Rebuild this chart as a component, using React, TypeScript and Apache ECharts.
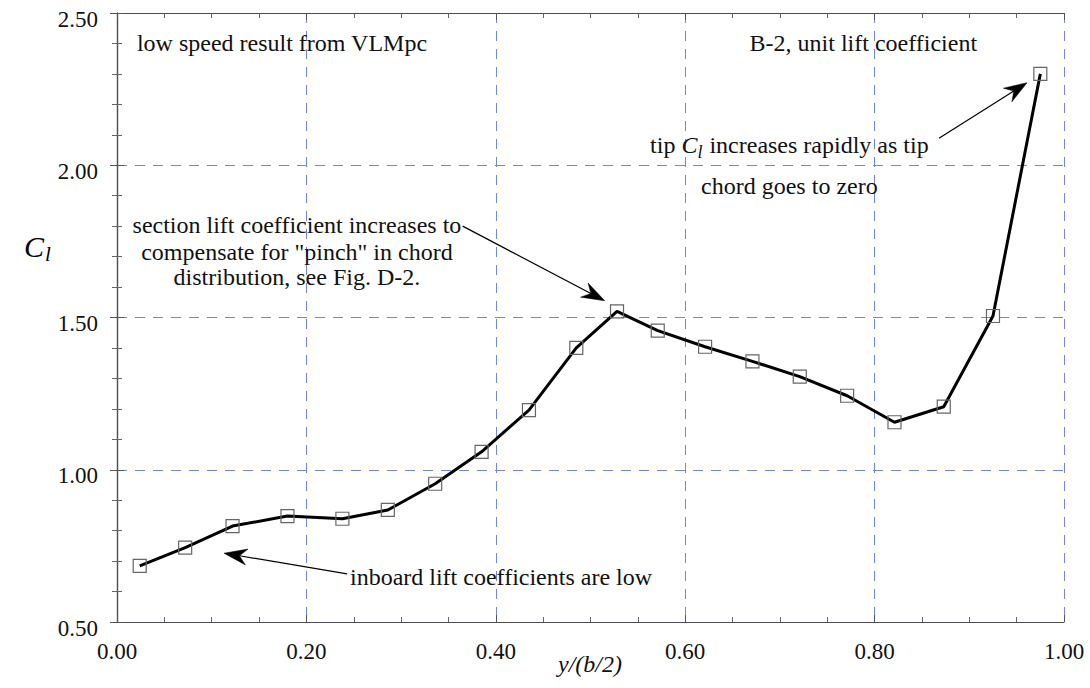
import React, { useEffect, useRef } from "react";
import * as echarts from "echarts";

// Spanwise station y/(b/2) and section lift coefficient C_l
const spanStation = [
  0.024, 0.072, 0.122, 0.18, 0.238, 0.286, 0.336, 0.385, 0.435, 0.485,
  0.528, 0.571, 0.621, 0.671, 0.721, 0.771, 0.821, 0.873, 0.925, 0.975,
];
const liftCoeff = [
  0.684, 0.744, 0.815, 0.848, 0.839, 0.868, 0.954, 1.059, 1.196, 1.4,
  1.52, 1.457, 1.404, 1.356, 1.306, 1.243, 1.156, 1.207, 1.505, 2.3,
];

// Axis ranges and tick steps
const xRange = [0, 1];
const yRange = [0.5, 2.5];
const xStep = 0.2;
const yStep = 0.5;

// Annotation texts, anchored in data units
const noteTopLeft = "low speed result from VLMpc";
const noteTopRight = "B-2, unit lift coefficient";
const sectionNote = [
  "section lift coefficient increases to",
  'compensate for "pinch" in chord',
  "distribution, see Fig. D-2.",
];
const inboardNote = "inboard lift coefficients are low";
const tipNoteLine2 = "chord goes to zero";

// Arrows: [tail, head] in data units
const arrows: [number, number][][] = [
  [[0.365, 1.8], [0.515, 1.555]],
  [[0.868, 2.089], [0.961, 2.271]],
  [[0.243, 0.658], [0.113, 0.726]],
];

const SERIF = "'Liberation Serif', 'Times New Roman', serif";
const GRID_BLUE = "#7385e0";

export default function App() {
  const ref = useRef<HTMLDivElement>(null);

  useEffect(() => {
    if (!ref.current) return;
    const chart = echarts.init(ref.current, undefined, { renderer: "svg" });

    const tickCommon = {
      axisLine: { show: true, lineStyle: { color: "#4a4a58", width: 1.2 } },
      axisTick: { show: true, inside: true, length: 7, lineStyle: { color: "#555" } },
      minorTick: { show: true, length: 5, lineStyle: { color: "#666" } },
    };

    const option: any = {
      animation: false,
      backgroundColor: "#ffffff",
      grid: { left: 117, right: 26, top: 13, bottom: 66, containLabel: false },
      xAxis: [
        {
          type: "value",
          min: xRange[0],
          max: xRange[1],
          interval: xStep,
          position: "bottom",
          ...tickCommon,
          minorTick: { ...tickCommon.minorTick, splitNumber: 4 },
          splitLine: { show: true, lineStyle: { color: GRID_BLUE, type: [10, 8], width: 1 } },
          axisLabel: {
            formatter: (v: number) => v.toFixed(2),
            fontFamily: SERIF,
            fontSize: 23,
            color: "#111",
            margin: 18,
          },
        },
        {
          type: "value",
          min: xRange[0],
          max: xRange[1],
          interval: xStep,
          position: "top",
          ...tickCommon,
          minorTick: { ...tickCommon.minorTick, splitNumber: 4 },
          splitLine: { show: false },
          axisLabel: { show: false },
        },
      ],
      yAxis: [
        {
          type: "value",
          min: yRange[0],
          max: yRange[1],
          interval: yStep,
          position: "left",
          ...tickCommon,
          minorTick: { ...tickCommon.minorTick, splitNumber: 5 },
          splitLine: { show: true, lineStyle: { color: GRID_BLUE, type: [10, 8], width: 1 } },
          axisLabel: {
            formatter: (v: number) => v.toFixed(2),
            fontFamily: SERIF,
            fontSize: 23,
            color: "#111",
            margin: 19,
            verticalAlign: "top",
            lineHeight: 12,
          },
        },
        {
          type: "value",
          min: yRange[0],
          max: yRange[1],
          interval: yStep,
          position: "right",
          ...tickCommon,
          minorTick: { ...tickCommon.minorTick, splitNumber: 5 },
          splitLine: { show: false },
          axisLabel: { show: false },
        },
      ],
      series: [
        {
          type: "line",
          data: spanStation.map((x, i) => [x, liftCoeff[i]]),
          xAxisIndex: 0,
          yAxisIndex: 0,
          symbol: "rect",
          symbolSize: 13,
          itemStyle: { color: "rgba(0,0,0,0)", borderColor: "#666", borderWidth: 1.2 },
          lineStyle: { color: "#000", width: 3 },
          z: 3,
        },
      ],
    };
    chart.setOption(option);

    const px = (p: number[]) => chart.convertToPixel({ gridIndex: 0 }, p) as number[];
    const textStyle = (extra: any) => ({
      font: `24px ${SERIF}`,
      fill: "#111",
      verticalAlign: "middle",
      ...extra,
    });

    const graphics: any[] = [];

    const tl = px([0.021, 2.401]);
    graphics.push({ type: "text", x: tl[0], y: tl[1], style: textStyle({ text: noteTopLeft, align: "left" }) });
    const tr = px([0.668, 2.401]);
    graphics.push({ type: "text", x: tr[0], y: tr[1], style: textStyle({ text: noteTopRight, align: "left" }) });

    const sectionY = [1.804, 1.715, 1.633];
    sectionNote.forEach((t, i) => {
      const p = px([0.19, sectionY[i]]);
      graphics.push({ type: "text", x: p[0], y: p[1], style: textStyle({ text: t, align: "center" }) });
    });

    const ib = px([0.246, 0.648]);
    graphics.push({ type: "text", x: ib[0], y: ib[1], style: textStyle({ text: inboardNote, align: "left" }) });

    const t1 = px([0.71, 2.067]);
    graphics.push({
      type: "text",
      x: t1[0],
      y: t1[1],
      style: textStyle({
        text: "{n|tip }{c|C}{s|l}{n| increases rapidly as tip}",
        align: "center",
        rich: {
          n: { fontFamily: SERIF, fontSize: 24, lineHeight: 30, color: "#111" },
          c: { fontFamily: SERIF, fontSize: 24, lineHeight: 30, fontStyle: "italic", color: "#111" },
          s: {
            fontFamily: SERIF,
            fontSize: 18,
            lineHeight: 22,
            fontStyle: "italic",
            color: "#111",
            padding: [14, 1, 0, 0],
          },
        },
      }),
    });
    const t2 = px([0.71, 1.932]);
    graphics.push({ type: "text", x: t2[0], y: t2[1], style: textStyle({ text: tipNoteLine2, align: "center" }) });

    // Arrows with swept heads
    arrows.forEach(([tail, head]) => {
      const a = px(tail);
      const b = px(head);
      const dx = b[0] - a[0];
      const dy = b[1] - a[1];
      const len = Math.hypot(dx, dy);
      const ux = dx / len;
      const uy = dy / len;
      const nx = -uy;
      const ny = ux;
      const L = 23;
      const W = 8;
      const back = [b[0] - ux * L, b[1] - uy * L];
      const notch = [b[0] - ux * L * 0.68, b[1] - uy * L * 0.68];
      graphics.push({
        type: "polyline",
        shape: { points: [a, notch] },
        style: { stroke: "#000", lineWidth: 1.2, fill: null },
        z: 10,
      });
      graphics.push({
        type: "polygon",
        shape: {
          points: [
            b,
            [back[0] + nx * W, back[1] + ny * W],
            notch,
            [back[0] - nx * W, back[1] - ny * W],
          ],
        },
        style: { fill: "#000", stroke: "#000", lineWidth: 0.5 },
        z: 10,
      });
    });

    // Axis titles
    graphics.push({
      type: "text",
      x: 24,
      y: 246,
      style: {
        text: "{c|C}{s|l}",
        verticalAlign: "middle",
        align: "left",
        rich: {
          c: { fontFamily: SERIF, fontSize: 30, lineHeight: 34, fontStyle: "italic", color: "#111" },
          s: {
            fontFamily: SERIF,
            fontSize: 21,
            lineHeight: 24,
            fontStyle: "italic",
            color: "#111",
            padding: [16, 0, 0, 1],
          },
        },
      },
    });
    graphics.push({
      type: "text",
      x: 590,
      y: 664,
      style: {
        text: "y/(b/2)",
        font: `italic 24px ${SERIF}`,
        fill: "#111",
        align: "center",
        verticalAlign: "middle",
      },
    });

    chart.setOption({ graphic: graphics });

    return () => chart.dispose();
  }, []);

  return (
    <div
      ref={ref}
      style={{ position: "fixed", left: 0, top: 0, width: 1090, height: 688, background: "#fff" }}
    />
  );
}
